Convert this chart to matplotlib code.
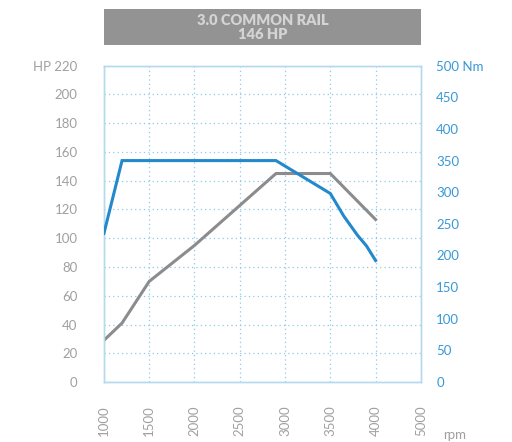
import matplotlib
matplotlib.use("Agg")
import matplotlib.pyplot as plt
from matplotlib.patches import Rectangle

# Data
hp_rpm = [1000, 1200, 1500, 2000, 2900, 3500, 4000]
hp_val = [29, 41, 70, 95, 145, 145, 113]
tq_rpm = [1000, 1200, 2900, 3500, 3650, 3800, 3900, 4000]
tq_val = [235, 350, 350, 298, 262, 232, 215, 192]
x_ticks = [1000, 1500, 2000, 2500, 3000, 3500, 4000, 4500]
x_labels = ['1000', '1500', '2000', '2500', '3000', '3500', '4000', '5000']
hp_ticks = list(range(0, 221, 20))
hp_labels = [str(v) for v in hp_ticks[:-1]] + ['HP 220']
nm_ticks = list(range(0, 501, 50))
nm_labels = [str(v) for v in nm_ticks[:-1]] + ['500 Nm']
title_lines = "3.0 COMMON RAIL\n146 HP"

BLUE = '#2289cc'
GREY = '#8c8c8c'
GRID = '#8ccaec'
SPINE = '#b5daf0'
LBL_GREY = '#a0a0a0'
LBL_BLUE = '#3898d6'

plt.rcParams['font.family'] = ['Lato', 'DejaVu Sans']

fig = plt.figure(figsize=(5.12, 4.42), dpi=100)
ax = fig.add_axes([0.203, 0.1357, 0.619, 0.7157])
ax.set_xlim(1000, 4500)
ax.set_ylim(0, 220)
ax2 = ax.twinx()
ax2.set_ylim(0, 500)

ax.plot(hp_rpm, hp_val, color=GREY, lw=2.2, solid_joinstyle='miter', zorder=3)
ax2.plot(tq_rpm, tq_val, color=BLUE, lw=2.2, solid_joinstyle='miter', zorder=3)

ax.set_xticks(x_ticks)
ax.set_xticklabels(x_labels, rotation=90, color=LBL_GREY, fontsize=9.5)
ax.set_yticks(hp_ticks)
ax.set_yticklabels(hp_labels, color=LBL_GREY, fontsize=9.5)
ax2.set_yticks(nm_ticks)
ax2.set_yticklabels(nm_labels, color=LBL_BLUE, fontsize=9.5)

ax.tick_params(axis='y', length=0, pad=19)
ax.tick_params(axis='x', length=0, pad=17)
ax2.tick_params(axis='y', length=0, pad=11)

ax.grid(True, color=GRID, linestyle=(0, (1, 2.5)), linewidth=0.9)
for a in (ax, ax2):
    for s in a.spines.values():
        s.set_color(SPINE)
        s.set_linewidth(1.0)

fig.text(455 / 512, 1 - 435 / 442, 'rpm', color=LBL_GREY, fontsize=9.5,
         ha='center', va='center')

# Title banner
fig.patches.append(Rectangle((104 / 512, 1 - 45 / 442), (421 - 104) / 512, 36 / 442,
                             transform=fig.transFigure, facecolor='#939393',
                             edgecolor='none'))
fig.text(263 / 512, 1 - 27.5 / 442, title_lines, color='#d4d4d4', fontsize=10.5,
         fontweight='heavy', ha='center', va='center', linespacing=1.1)

fig.savefig('out.png', dpi=100)
